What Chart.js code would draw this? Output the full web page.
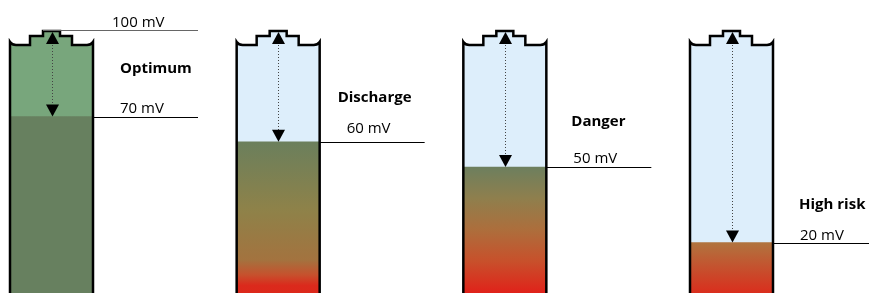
<!DOCTYPE html>
<html>
<head>
<meta charset="utf-8">
<script src="https://cdn.jsdelivr.net/npm/chart.js@4/dist/chart.umd.min.js"></script>
<style>
  html, body { margin: 0; padding: 0; background: #fff; overflow: hidden; }
  canvas { display: block; }
</style>
</head>
<body>
<canvas id="battery" width="869" height="293"></canvas>
<script>
// values
const categories = ['Optimum', 'Discharge', 'Danger', 'High risk'];
const levels = [70, 60, 50, 20];
const capacity = [100, 100, 100, 100];
const levelLabels = ['70 mV', '60 mV', '50 mV', '20 mV'];
const topLabel = '100 mV';

// look
const emptyColors = ['#78a67c', '#ddeefb', '#ddeefb', '#ddeefb'];
const fillStops = [
  [[0, '#67805f'], [1, '#67805f']],
  [[0, '#6b7f5c'], [0.45, '#8e8249'], [0.78, '#a3733f'], [0.88, '#c6512d'], [0.95, '#db2a1c'], [1, '#dc281b']],
  [[0, '#6d7f5e'], [0.25, '#8f7f4d'], [0.5, '#ad6e3c'], [0.75, '#c8502b'], [1, '#e0221a']],
  [[0, '#b0743f'], [1, '#da2e1d']]
];
const titleDx = [27, 18, 25, 26];
const titleDy = [44, 40, 41, 34];
const labelDy = [4, 9, 4, 3];
const labelFont = '15px "Open Sans", sans-serif';
const titleFont = 'bold 15px "Open Sans", sans-serif';

function fillGradient(ctx) {
  const chart = ctx.chart;
  if (!chart.chartArea) return fillStops[ctx.dataIndex][0][1];
  const y = chart.scales.y;
  const top = y.getPixelForValue(levels[ctx.dataIndex]);
  const bottom = y.getPixelForValue(0);
  const g = chart.ctx.createLinearGradient(0, top, 0, bottom);
  fillStops[ctx.dataIndex].forEach(s => g.addColorStop(s[0], s[1]));
  return g;
}

const batteryPlugin = {
  id: 'battery',
  afterDatasetsDraw(chart) {
    const c = chart.ctx;
    const yScale = chart.scales.y;
    const bars = chart.getDatasetMeta(0).data;
    bars.forEach((bar, i) => {
      const half = bar.width / 2;
      const L = bar.x - half, R = bar.x + half;
      const t = bar.y; // top of the body (100)
      const base = bar.base;
      const lvl = yScale.getPixelForValue(levels[i]);

      // cap fill
      c.save();
      c.fillStyle = emptyColors[i];
      c.beginPath();
      c.moveTo(L + 20, t + 4);
      c.lineTo(L + 20, t - 5);
      c.lineTo(L + 33, t - 5);
      c.lineTo(L + 33, t - 10);
      c.lineTo(L + 50, t - 10);
      c.lineTo(L + 50, t - 5);
      c.lineTo(L + 62, t - 5);
      c.lineTo(L + 62, t + 4);
      c.closePath();
      c.fill();

      // white shoulder notches
      c.fillStyle = '#fff';
      c.beginPath();
      c.moveTo(L - 1, t - 1);
      c.lineTo(L - 1, t + 1);
      c.quadraticCurveTo(L + 2, t + 4, L + 6, t + 4);
      c.lineTo(L + 20, t + 4);
      c.lineTo(L + 20, t - 1);
      c.closePath();
      c.fill();
      c.beginPath();
      c.moveTo(R + 1, t - 1);
      c.lineTo(R + 1, t + 1);
      c.quadraticCurveTo(R - 2, t + 4, R - 6, t + 4);
      c.lineTo(L + 62, t + 4);
      c.lineTo(L + 62, t - 1);
      c.closePath();
      c.fill();

      // outline
      c.strokeStyle = '#000';
      c.lineWidth = 2.5;
      c.lineJoin = 'miter';
      c.beginPath();
      c.moveTo(L, base + 5);
      c.lineTo(L, t + 1);
      c.quadraticCurveTo(L + 2, t + 4, L + 6, t + 4);
      c.lineTo(L + 20, t + 4);
      c.lineTo(L + 20, t - 5);
      c.lineTo(L + 33, t - 5);
      c.lineTo(L + 33, t - 10);
      c.lineTo(L + 50, t - 10);
      c.lineTo(L + 50, t - 5);
      c.lineTo(L + 62, t - 5);
      c.lineTo(L + 62, t + 4);
      c.lineTo(R - 6, t + 4);
      c.quadraticCurveTo(R - 2, t + 4, R, t + 1);
      c.lineTo(R, base + 5);
      c.stroke();

      // dotted arrow
      const cx = Math.round(bar.x) + 0.5;
      c.lineWidth = 1;
      c.strokeStyle = '#444';
      c.setLineDash([1, 2]);
      c.beginPath();
      c.moveTo(cx, t - 2);
      c.lineTo(cx, lvl - 10);
      c.stroke();
      c.setLineDash([]);
      c.fillStyle = '#000';
      c.beginPath();
      c.moveTo(cx, t - 9);
      c.lineTo(cx + 6.5, t + 3);
      c.lineTo(cx - 6.5, t + 3);
      c.closePath();
      c.fill();
      c.beginPath();
      c.moveTo(cx, lvl);
      c.lineTo(cx + 6.5, lvl - 12);
      c.lineTo(cx - 6.5, lvl - 12);
      c.closePath();
      c.fill();

      // level line and labels
      c.strokeStyle = '#000';
      c.beginPath();
      c.moveTo(R, Math.round(lvl) + 0.5);
      c.lineTo(R + 105, Math.round(lvl) + 0.5);
      c.stroke();
      c.textBaseline = 'alphabetic';
      c.textAlign = 'left';
      c.fillStyle = '#000';
      c.font = labelFont;
      c.fillText(levelLabels[i], R + 27, lvl - labelDy[i]);
      c.font = titleFont;
      c.fillText(categories[i], R + titleDx[i], lvl - titleDy[i]);

      if (i === 0) {
        c.strokeStyle = '#666';
        c.beginPath();
        c.moveTo(L + 33, Math.round(t - 10) - 0.5);
        c.lineTo(R + 105, Math.round(t - 10) - 0.5);
        c.stroke();
        c.font = labelFont;
        c.fillText(topLabel, R + 19, t - 14);
      }
      c.restore();
    });
  }
};

new Chart(document.getElementById('battery'), {
  type: 'bar',
  data: {
    labels: categories,
    datasets: [
      {
        label: 'capacity',
        data: capacity,
        backgroundColor: emptyColors,
        borderWidth: 0,
        grouped: false,
        order: 2,
        clip: false
      },
      {
        label: 'level',
        data: levels,
        backgroundColor: fillGradient,
        borderWidth: 0,
        grouped: false,
        order: 1,
        clip: false
      }
    ]
  },
  options: {
    responsive: false,
    animation: false,
    events: [],
    layout: { padding: { left: 51.5, right: 137.5, top: 41, bottom: 0 } },
    datasets: { bar: { barThickness: 83 } },
    scales: {
      x: { display: false, offset: false },
      y: { display: false, min: 0, max: 100 }
    },
    plugins: {
      legend: { display: false },
      tooltip: { enabled: false }
    }
  },
  plugins: [batteryPlugin]
});
</script>
</body>
</html>
